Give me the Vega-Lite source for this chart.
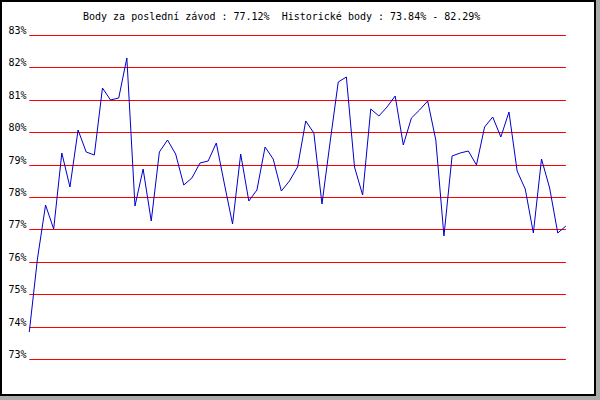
{
  "$schema": "https://vega.github.io/schema/vega-lite/v6.json",
  "width": 594,
  "height": 394,
  "autosize": {"type": "none"},
  "padding": {"left": 1, "top": 1, "right": 5, "bottom": 5},
  "background": "#aaaaaa",
  "config": {
    "view": {"fill": "white", "stroke": "black", "strokeWidth": 2},
    "font": "DejaVu Sans Mono"
  },
  "title": {
    "text": "Body za poslední závod : 77.12%\u00a0\u00a0Historické body : 73.84% - 82.29%",
    "font": "DejaVu Sans Mono",
    "fontSize": 10,
    "fontWeight": "normal",
    "color": "black",
    "anchor": "start",
    "frame": "group",
    "dx": 82,
    "baseline": "alphabetic",
    "offset": -29
  },
  "datasets": {
    "grid": [{"g": 73}, {"g": 74}, {"g": 75}, {"g": 76}, {"g": 77}, {"g": 78}, {"g": 79}, {"g": 80}, {"g": 81}, {"g": 82}, {"g": 83}],
    "scores": [
      {"i": 0, "v": 73.84}, {"i": 1, "v": 76.1}, {"i": 2, "v": 77.75}, {"i": 3, "v": 77.0},
      {"i": 4, "v": 79.35}, {"i": 5, "v": 78.32}, {"i": 6, "v": 80.08}, {"i": 7, "v": 79.38},
      {"i": 8, "v": 79.3}, {"i": 9, "v": 81.35}, {"i": 10, "v": 81.0}, {"i": 11, "v": 81.04},
      {"i": 12, "v": 82.29}, {"i": 13, "v": 77.73}, {"i": 14, "v": 78.87}, {"i": 15, "v": 77.27},
      {"i": 16, "v": 79.4}, {"i": 17, "v": 79.77}, {"i": 18, "v": 79.33}, {"i": 19, "v": 78.37},
      {"i": 20, "v": 78.6}, {"i": 21, "v": 79.05}, {"i": 22, "v": 79.1}, {"i": 23, "v": 79.67},
      {"i": 24, "v": 78.4}, {"i": 25, "v": 77.17}, {"i": 26, "v": 79.33}, {"i": 27, "v": 77.89},
      {"i": 28, "v": 78.23}, {"i": 29, "v": 79.55}, {"i": 30, "v": 79.17}, {"i": 31, "v": 78.17},
      {"i": 32, "v": 78.48}, {"i": 33, "v": 78.94}, {"i": 34, "v": 80.35}, {"i": 35, "v": 79.99},
      {"i": 36, "v": 77.78}, {"i": 37, "v": 79.7}, {"i": 38, "v": 81.55}, {"i": 39, "v": 81.7},
      {"i": 40, "v": 78.94}, {"i": 41, "v": 78.06}, {"i": 42, "v": 80.73}, {"i": 43, "v": 80.49},
      {"i": 44, "v": 80.78}, {"i": 45, "v": 81.11}, {"i": 46, "v": 79.59}, {"i": 47, "v": 80.45},
      {"i": 48, "v": 80.7}, {"i": 49, "v": 80.95}, {"i": 50, "v": 79.75}, {"i": 51, "v": 76.8},
      {"i": 52, "v": 79.28}, {"i": 53, "v": 79.35}, {"i": 54, "v": 79.43}, {"i": 55, "v": 78.99},
      {"i": 56, "v": 80.15}, {"i": 57, "v": 80.48}, {"i": 58, "v": 79.86}, {"i": 59, "v": 80.63},
      {"i": 60, "v": 78.8}, {"i": 61, "v": 78.24}, {"i": 62, "v": 76.9}, {"i": 63, "v": 79.16},
      {"i": 64, "v": 78.27}, {"i": 65, "v": 76.88}, {"i": 66, "v": 77.12}
    ]
  },
  "layer": [
    {
      "data": {"name": "grid"},
      "mark": {"type": "rule", "color": "#ff0000", "strokeWidth": 1, "yOffset": 0.5},
      "encoding": {
        "y": {
          "field": "g", "type": "quantitative",
          "scale": {"domain": [71.889, 84.049], "nice": false, "zero": false, "round": true},
          "axis": {
            "values": [73, 74, 75, 76, 77, 78, 79, 80, 81, 82, 83],
            "labelExpr": "datum.value + '%'",
            "domain": false, "ticks": false, "tickSize": 0, "grid": false,
            "title": null, "offset": -25, "labelPadding": 0,
            "labelOffset": -5, "labelFont": "DejaVu Sans Mono", "labelFontSize": 10,
            "labelColor": "black", "labelFlush": false, "labelOverlap": false, "labelBound": false
          }
        },
        "x": {"datum": 0, "type": "quantitative", "scale": {"domain": [-3.48, 69.58], "nice": false, "zero": false}, "axis": null},
        "x2": {"datum": 66}
      }
    },
    {
      "data": {"name": "scores"},
      "mark": {"type": "line", "color": "#0000cc", "strokeWidth": 1, "clip": false},
      "encoding": {
        "x": {"field": "i", "type": "quantitative", "scale": {"domain": [-3.48, 69.58], "nice": false, "zero": false}, "axis": null},
        "y": {
          "field": "v", "type": "quantitative",
          "scale": {"domain": [71.889, 84.049], "nice": false, "zero": false, "round": true},
          "axis": {
            "values": [73, 74, 75, 76, 77, 78, 79, 80, 81, 82, 83],
            "labelExpr": "datum.value + '%'",
            "domain": false, "ticks": false, "tickSize": 0, "grid": false,
            "title": null, "offset": -25, "labelPadding": 0,
            "labelOffset": -5, "labelFont": "DejaVu Sans Mono", "labelFontSize": 10,
            "labelColor": "black", "labelFlush": false, "labelOverlap": false, "labelBound": false
          }
        }
      }
    }
  ]
}
